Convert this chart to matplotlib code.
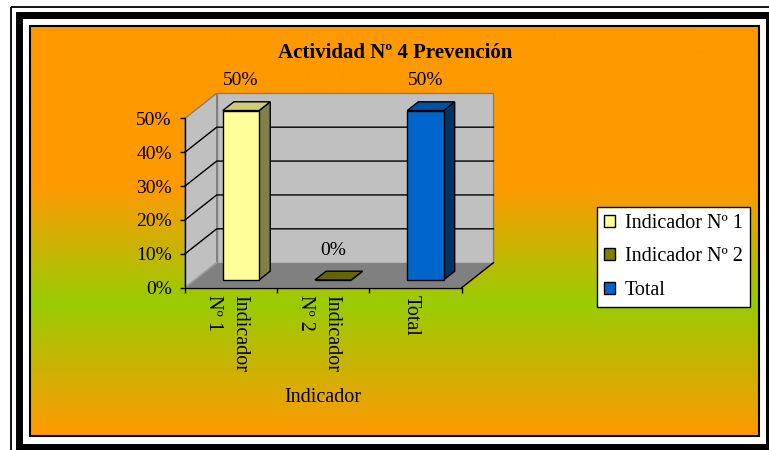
import numpy as np
import matplotlib
matplotlib.use("Agg")
import matplotlib.pyplot as plt
from matplotlib.patches import Polygon, Rectangle, Patch

plt.rcParams["font.family"] = "Liberation Serif"

# chart data
categories = ["Indicador\nNº 1", "Indicador\nNº 2", "Total"]
series = ["Indicador Nº 1", "Indicador Nº 2", "Total"]
values = [50, 0, 50]
value_labels = ["50%", "0%", "50%"]
y_ticks = [0, 10, 20, 30, 40, 50]
y_tick_labels = ["0%", "10%", "20%", "30%", "40%", "50%"]
title = "Actividad Nº 4 Prevención"
x_title = "Indicador"

front_colors = ["#FFFF99", "#808000", "#0066CC"]
top_colors = ["#CCCC7A", "#666600", "#0052A3"]
side_colors = ["#80804D", "#404000", "#003366"]

W, H = 769, 450
fig = plt.figure(figsize=(W / 100, H / 100), dpi=100, facecolor="white")

# background layer in pixel units
bg = fig.add_axes([0, 0, 1, 1])
bg.axis("off")

ys = np.arange(25, 437)
t = np.interp(ys, [25, 185, 303, 436], [0, 0, 1, 0])
orange = np.array([255, 153, 0]) / 255
green = np.array([153, 204, 0]) / 255
grad = orange[None, :] * (1 - t[:, None]) + green[None, :] * t[:, None]
bg.imshow(grad[:, None, :], extent=(30, 758.5, 436, 25), aspect="auto",
          interpolation="bilinear", zorder=0)

bg.add_patch(Rectangle((30, 25.5), 728.5, 410, fill=False, ec="black", lw=1.5, zorder=2))
bg.add_patch(Rectangle((18.5, 14.5), 750, 432, fill=False, ec="black", lw=5, zorder=2))
bg.add_patch(Rectangle((11, 7), 770, 450, fill=False, ec="black", lw=1.3, zorder=2))
bg.set_xlim(0, W)
bg.set_ylim(H, 0)

bg.text(395, 53, title, ha="center", va="center", fontsize=15, fontweight="bold")
bg.text(323, 397, x_title, ha="center", va="center", fontsize=14.5)

# plot area (front plane of the 3D box)
ax = fig.add_axes([185 / W, 1 - 287.7 / H, 276.7 / W, 169.4 / H])
ax.set_xlim(0, 3)
ax.set_ylim(0, 50)
ax.patch.set_visible(False)
for s in ["top", "right"]:
    ax.spines[s].set_visible(False)
for s in ["left", "bottom"]:
    ax.spines[s].set_linewidth(1)
    ax.spines[s].set_zorder(5)

dx, dy = 0.344, 7.38  # depth of the box in data units
n = len(categories)
top = y_ticks[-1]

ax.add_patch(Polygon([(0, 0), (n, 0), (n + dx, dy), (dx, dy)],
                     fc="#808080", ec="none", clip_on=False, zorder=1))
ax.add_patch(Polygon([(0, 0), (dx, dy), (dx, top + dy), (0, top)],
                     fc="#C0C0C0", ec="#808080", lw=1, clip_on=False, zorder=1))
ax.add_patch(Rectangle((dx, dy), n, top, fc="#C0C0C0", ec="#808080", lw=1,
                       clip_on=False, zorder=1))
ax.plot([0, dx], [0, dy], color="#A0A0A0", lw=1, clip_on=False, zorder=2)
ax.plot([n, n + dx], [0, dy], color="black", lw=1, clip_on=False, zorder=2)
for v in y_ticks[1:-1]:
    ax.plot([0, dx, n + dx], [v, v + dy, v + dy], color="black", lw=1,
            clip_on=False, zorder=2)

# bars
f0, fb, bw = 0.31, 0.35, 0.394
for i, v in enumerate(values):
    x0 = i + 0.5 - bw / 2 + f0 * dx
    x1 = x0 + bw
    y0 = f0 * dy
    y1 = v + f0 * dy
    ddx, ddy = fb * dx, fb * dy
    kw = dict(ec="black", lw=1, clip_on=False, zorder=3, joinstyle="miter")
    ax.add_patch(Polygon([(x1, y0), (x1 + ddx, y0 + ddy), (x1 + ddx, y1 + ddy), (x1, y1)],
                         fc=side_colors[i], **kw))
    ax.add_patch(Polygon([(x0, y1), (x1, y1), (x1 + ddx, y1 + ddy), (x0 + ddx, y1 + ddy)],
                         fc=top_colors[i], **kw))
    ax.add_patch(Polygon([(x0, y0), (x1, y0), (x1, y1), (x0, y1)],
                         fc=front_colors[i], **kw))
    ax.annotate(value_labels[i], (i + 0.5 + f0 * dx, v + (f0 + fb) * dy),
                xytext=(0, 15), textcoords="offset points",
                ha="center", va="center", fontsize=14, annotation_clip=False)

ax.set_yticks(y_ticks, y_tick_labels)
ax.tick_params(axis="y", direction="out", length=3.5, width=1, pad=6, labelsize=14)
ax.set_xticks(range(n + 1), [""] * (n + 1))
# category names sit a little left of the slot centre
ax.set_xticks([i + 0.45 for i in range(n)], categories, minor=True)
ax.tick_params(axis="x", which="major", direction="out", length=3.5, width=1)
ax.tick_params(axis="x", which="minor", length=0, pad=5, labelsize=14.5,
               labelrotation=-90)
for lbl in ax.get_xticklabels(minor=True):
    lbl.set_multialignment("left")
    lbl.set_linespacing(1.55)

handles = [Patch(fc=c, ec="black", lw=1) for c in front_colors]
leg = fig.legend(handles, series, loc="upper left",
                 bbox_to_anchor=(597 / W, 1 - 207 / H), borderaxespad=0,
                 fontsize=14.5, fancybox=False, edgecolor="black", framealpha=1,
                 borderpad=0.34, handlelength=0.55, handleheight=0.55,
                 handletextpad=0.5, labelspacing=0.72)
leg.get_frame().set_linewidth(1)

fig.savefig("out.png", dpi=100)
